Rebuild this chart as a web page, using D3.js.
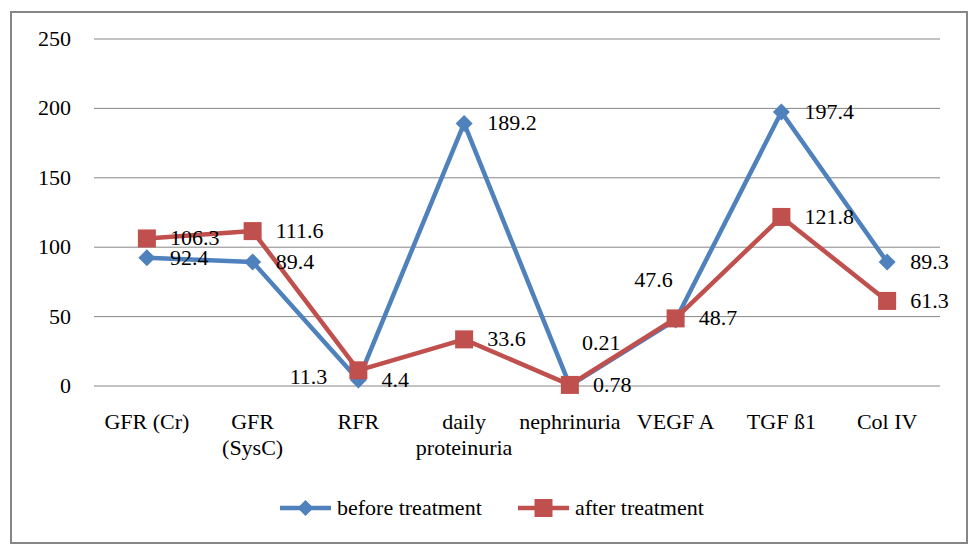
<!DOCTYPE html>
<html>
<head>
<meta charset="utf-8">
<script src="https://cdn.jsdelivr.net/npm/d3@7"></script>
</head>
<body style="margin:0">
<svg id="chart" width="979" height="556"></svg>
<script>
const categories = [["GFR (Cr)"], ["GFR", "(SysC)"], ["RFR"], ["daily", "proteinuria"], ["nephrinuria"], ["VEGF A"], ["TGF ß1"], ["Col IV"]];
const beforeValues = [92.4, 89.4, 4.4, 189.2, 0.21, 47.6, 197.4, 89.3];
const afterValues = [106.3, 111.6, 11.3, 33.6, 0.78, 48.7, 121.8, 61.3];
const beforeLabels = ["92.4", "89.4", "4.4", "189.2", "0.21", "47.6", "197.4", "89.3"];
const afterLabels = ["106.3", "111.6", "11.3", "33.6", "0.78", "48.7", "121.8", "61.3"];
const yTicks = [0, 50, 100, 150, 200, 250];

// label placement tweaks (Excel had a few of them dragged by hand)
const defaultLabel = { dx: 23, dy: 0, anchor: "start" };
const beforeLabelPos = { 4: { dx: 12, dy: -43, anchor: "start" }, 5: { dx: -3, dy: -40, anchor: "end" } };
const afterLabelPos = { 2: { dx: -31, dy: 7, anchor: "end" } };

const svgWidth = 979, svgHeight = 556;
const margin = { top: 39, right: 39, bottom: 170, left: 94 };
const width = svgWidth - margin.left - margin.right;
const height = svgHeight - margin.top - margin.bottom;

const blue = "#4F81BD", red = "#C0504D", grid = "#868686";

const svg = d3.select("#chart")
  .attr("font-family", "Liberation Serif")
  .attr("font-size", 22);

svg.append("rect")
  .attr("x", 11).attr("y", 12)
  .attr("width", 956).attr("height", 531)
  .attr("fill", "none").attr("stroke", grid).attr("stroke-width", 2);

const g = svg.append("g").attr("transform", `translate(${margin.left},${margin.top})`);

const x = d3.scaleBand().domain(d3.range(categories.length)).range([0, width]);
const y = d3.scaleLinear().domain([0, 250]).range([height, 0]);
const cx = i => x(i) + x.bandwidth() / 2;

// gridlines
g.append("g").selectAll("line").data(yTicks).join("line")
  .attr("x1", 0).attr("x2", width)
  .attr("y1", d => y(d)).attr("y2", d => y(d))
  .attr("stroke", grid).attr("stroke-width", 1);

// y axis labels (drawn by hand from the scale so no axis font defaults creep in)
g.append("g").selectAll("text").data(yTicks).join("text")
  .attr("x", -23)
  .attr("y", d => y(d) + 7)
  .attr("text-anchor", "end")
  .text(d => d);

// x categories
const xLab = g.append("g").selectAll("text").data(categories).join("text")
  .attr("text-anchor", "middle")
  .attr("x", (d, i) => cx(i))
  .attr("y", height + 43);
xLab.selectAll("tspan").data(d => d).join("tspan")
  .attr("x", function () { return d3.select(this.parentNode).attr("x"); })
  .attr("dy", (d, i) => i === 0 ? 0 : 26)
  .text(d => d);

const line = d3.line().x((d, i) => cx(i)).y(d => y(d));

function diamond(sel, s) {
  return sel.attr("d", `M0,${-s}L${s},0L0,${s}L${-s},0Z`);
}

// before treatment
g.append("path").datum(beforeValues)
  .attr("fill", "none").attr("stroke", blue).attr("stroke-width", 4.5)
  .attr("stroke-linejoin", "round").attr("d", line);
g.append("g").selectAll("path").data(beforeValues).join("path")
  .attr("transform", (d, i) => `translate(${cx(i)},${y(d)})`)
  .attr("fill", blue)
  .call(diamond, 8.5);

// after treatment
g.append("path").datum(afterValues)
  .attr("fill", "none").attr("stroke", red).attr("stroke-width", 4.5)
  .attr("stroke-linejoin", "round").attr("d", line);
g.append("g").selectAll("rect").data(afterValues).join("rect")
  .attr("x", (d, i) => cx(i) - 9).attr("y", d => y(d) - 9)
  .attr("width", 18).attr("height", 18)
  .attr("fill", red);

// data labels
function labels(values, texts, pos) {
  g.append("g").selectAll("text").data(values).join("text")
    .attr("x", (d, i) => cx(i) + (pos[i] || defaultLabel).dx)
    .attr("y", (d, i) => y(d) + (pos[i] || defaultLabel).dy + 7)
    .attr("text-anchor", (d, i) => (pos[i] || defaultLabel).anchor)
    .text((d, i) => texts[i]);
}
labels(beforeValues, beforeLabels, beforeLabelPos);
labels(afterValues, afterLabels, afterLabelPos);

// legend
const legend = svg.append("g").attr("transform", "translate(0,508)");
const items = [
  { name: "before treatment", color: blue, x: 280, marker: "diamond" },
  { name: "after treatment", color: red, x: 518, marker: "square" }
];
items.forEach(it => {
  const lg = legend.append("g").attr("transform", `translate(${it.x},0)`);
  lg.append("line").attr("x1", 0).attr("x2", 51).attr("y1", 0).attr("y2", 0)
    .attr("stroke", it.color).attr("stroke-width", 4.5);
  if (it.marker === "diamond") {
    lg.append("path").attr("transform", "translate(25.5,0)").attr("fill", it.color).call(diamond, 8);
  } else {
    lg.append("rect").attr("x", 16.5).attr("y", -9).attr("width", 18).attr("height", 18).attr("fill", it.color);
  }
  lg.append("text").attr("x", 57).attr("y", 7).text(it.name);
});
</script>
</body>
</html>
